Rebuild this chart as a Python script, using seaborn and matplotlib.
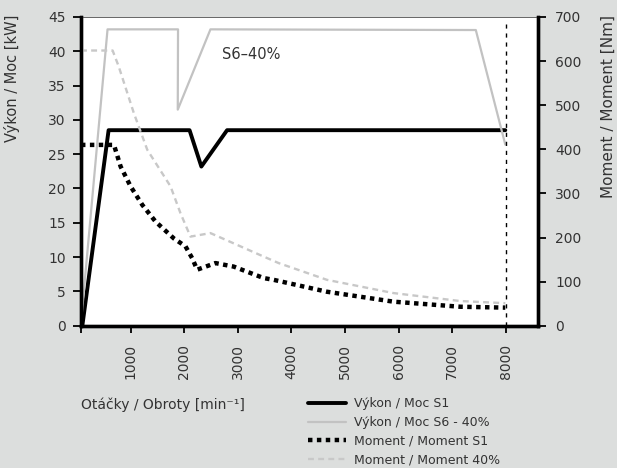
import matplotlib
matplotlib.use("Agg")
import matplotlib.pyplot as plt
import seaborn as sns

# Výkon / Moc S1 [kW]
rpm_pow_s1 = [100, 590, 2100, 2320, 2800, 7990]
pow_s1 = [0, 28.5, 28.5, 23.2, 28.5, 28.5]

# Výkon / Moc S6 - 40% [kW]
rpm_pow_s6 = [70, 570, 1885, 1880, 2490, 7440, 7990]
pow_s6 = [0, 43.2, 43.2, 31.5, 43.2, 43.1, 26.4]

# Moment / Moment S1 [Nm]
rpm_mom_s1 = [75, 690, 814, 1000, 1218, 1466, 1806, 2024, 2149, 2242, 2583,
              2924, 3483, 3669, 4663, 5903, 7145, 7990]
mom_s1 = [410, 410, 361, 316, 274, 236, 198, 180, 153, 127, 142,
          134, 108, 104, 77, 54.5, 43, 41]

# Moment / Moment 40% [Nm]
rpm_mom_s6 = [75, 665, 778, 1061, 1311, 1745, 1931, 2117, 2490, 3048, 3421,
              3762, 4663, 5903, 7145, 7990]
mom_s6 = [624, 624, 588, 482, 399, 316, 255, 202, 210, 180, 160,
          142, 104, 74, 56, 51]

max_rpm = 8000
x_ticks = [1000, 2000, 3000, 4000, 5000, 6000, 7000, 8000]
legend_labels = ["Výkon / Moc S1", "Výkon / Moc S6 - 40%",
                 "Moment / Moment S1", "Moment / Moment 40%"]

BG = "#dcdedd"
TXT = "#333333"

sns.set_style("white")
plt.rcParams["font.family"] = ["DejaVu Sans"]
plt.rcParams["text.color"] = TXT

fig = plt.figure(figsize=(6.17, 4.68), dpi=100, facecolor=BG)
ax = fig.add_axes([81 / 617, 1 - 325.7 / 468, (538 - 81) / 617, (325.7 - 17) / 468])
ax.set_facecolor("white")
ax2 = ax.twinx()

sns.lineplot(x=rpm_pow_s1, y=pow_s1, ax=ax, sort=False, estimator=None,
             color="black", lw=2.8, label=legend_labels[0], legend=False)
sns.lineplot(x=rpm_pow_s6, y=pow_s6, ax=ax, sort=False, estimator=None,
             color="#c2c2c2", lw=1.6, label=legend_labels[1], legend=False)
sns.lineplot(x=rpm_mom_s1, y=mom_s1, ax=ax2, sort=False, estimator=None,
             color="black", lw=3.2, label=legend_labels[2], legend=False)
sns.lineplot(x=rpm_mom_s6, y=mom_s6, ax=ax2, sort=False, estimator=None,
             color="#c8c8c8", lw=1.7, label=legend_labels[3], legend=False)
ax2.lines[0].set_linestyle((0, (1, 1)))
ax2.lines[1].set_linestyle((0, (2.5, 1.8)))

# max speed marker
ax.axvline(max_rpm, ymin=0, ymax=44 / 45, color="black", lw=1, ls=(0, (3, 3.5)))

ax.text(2710, 39.5, "S6–40%", fontsize=10.5, va="center", ha="left", color=TXT)

ax.set_xlim(75, 8600)
ax.set_ylim(0, 45)
ax2.set_ylim(0, 700)
ax.set_xticks([75] + x_ticks)
ax.set_xticklabels([""] + [str(t) for t in x_ticks], rotation=90)
ax.set_yticks(range(0, 46, 5))
ax2.set_yticks(range(0, 701, 100))

for a in (ax, ax2):
    a.tick_params(colors="black", labelcolor=TXT, labelsize=10, width=1.3)
    a.set_xlabel("")
    a.set_ylabel("")
ax.tick_params(axis="y", direction="out", length=6, left=True, pad=5)
ax.tick_params(axis="x", direction="out", length=5, bottom=True, pad=8)
ax2.tick_params(axis="y", direction="out", length=6, right=True, pad=6.5)

for a in (ax, ax2):
    a.spines["left"].set_linewidth(2.4)
    a.spines["bottom"].set_linewidth(2.4)
    a.spines["right"].set_linewidth(2.4)
    for s in ("left", "bottom", "right"):
        a.spines[s].set_color("black")
# thin top border drawn once only
ax.spines["top"].set_linewidth(0.7)
ax.spines["top"].set_color("#666666")
ax2.spines["top"].set_visible(False)

fig.text(81 / 617, 1 - 405 / 468, "Otáčky / Obroty [min⁻¹]", fontsize=10,
         ha="left", va="center", color=TXT)
fig.text(12 / 617, 1 - 15 / 468, "Výkon / Moc [kW]", fontsize=10.5,
         rotation=90, ha="center", va="top", color=TXT)
fig.text(608 / 617, 1 - 15 / 468, "Moment / Moment [Nm]", fontsize=11,
         rotation=90, ha="center", va="top", color=TXT)

handles = ax.lines[:2] + ax2.lines[:2]
fig.legend(handles, legend_labels, loc="upper left",
           bbox_to_anchor=(308 / 617, 1 - 397 / 468), frameon=False,
           fontsize=9, handlelength=3, handletextpad=0.65,
           labelspacing=0.47, borderpad=0, borderaxespad=0)

fig.savefig("out.png", dpi=100, facecolor=BG)
